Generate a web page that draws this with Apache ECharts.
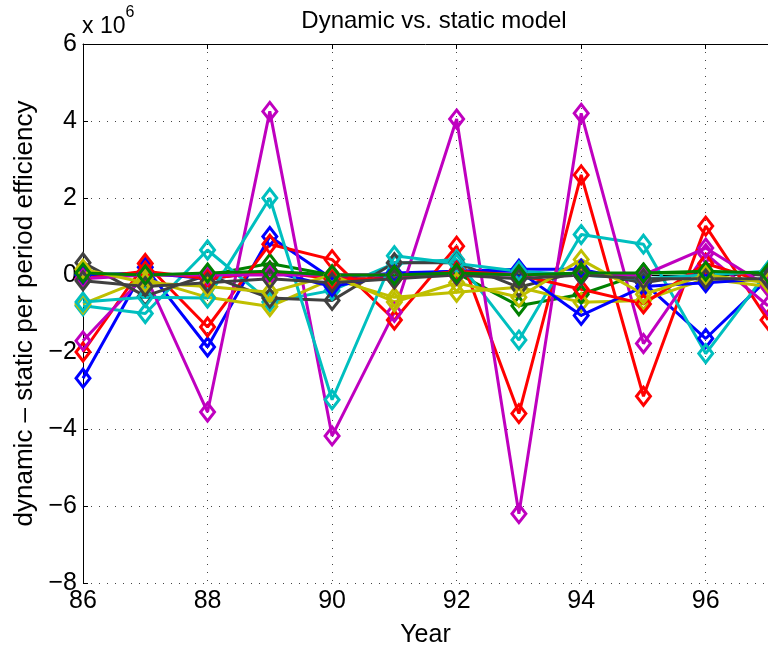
<!DOCTYPE html>
<html>
<head>
<meta charset="utf-8">
<script src="https://cdn.jsdelivr.net/npm/echarts@6/dist/echarts.min.js"></script>
<style>
  html, body { margin: 0; padding: 0; background: #fff; }
  #main { width: 768px; height: 653px; }
</style>
</head>
<body>
<div id="main"></div>
<script>
// years on the x axis
var years = [86, 87, 88, 89, 90, 91, 92, 93, 94, 95, 96, 97];

// dynamic - static per period efficiency, in units of 1e6
var blueA    = [-2.68, 0.2, -1.87, 1.0, -0.1, 0.05, 0.1, 0.15, 0.15, -0.2, -1.65, -0.1];
var greenA   = [0.0, 0.0, 0.0, 0.3, 0.0, 0.0, 0.05, -0.8, -0.5, 0.05, 0.05, 0.0];
var redA     = [-2.0, 0.3, -1.35, 0.8, 0.4, -1.17, 0.75, -3.6, 2.6, -3.15, 1.27, -1.17];
var cyanA    = [-0.8, -1.0, 0.65, -0.7, -0.4, 0.3, 0.4, -1.69, 1.05, 0.8, -2.04, 0.1];
var magentaA = [-1.71, 0.0, -3.56, 4.25, -4.18, -0.97, 4.05, -6.2, 4.2, -1.78, 0.55, -0.8];
var yellowA  = [-0.75, -0.1, -0.58, -0.82, -0.1, -0.58, -0.45, -0.32, -0.71, -0.66, -0.1, -0.3];
var grayA    = [0.32, -0.55, 0.0, -0.6, -0.66, 0.32, 0.32, -0.32, 0.1, -0.2, 0.05, 0.0];
var blueB    = [0.0, 0.05, -0.1, 0.1, -0.3, 0.0, 0.1, 0.1, -1.05, -0.3, -0.2, -0.1];
var redB     = [-0.1, 0.1, -0.1, 0.1, -0.1, -0.1, 0.1, 0.0, -0.37, -0.75, 0.3, -0.2];
var cyanB    = [-0.7, -0.58, -0.6, 2.0, -3.24, 0.5, 0.3, 0.1, 0.0, -0.1, 0.0, 0.1];
var magentaB = [-0.1, 0.0, 0.0, 0.0, 0.0, 0.0, 0.0, 0.0, 0.0, 0.0, 0.7, -0.3];
var yellowB  = [0.15, -0.2, -0.3, -0.45, 0.0, -0.7, -0.2, -0.58, 0.4, -0.5, 0.0, -0.2];
var grayB    = [-0.15, -0.3, -0.2, -0.1, -0.2, -0.1, 0.0, -0.1, 0.0, -0.1, -0.1, -0.1];
var greenB   = [0.05, 0.0, 0.05, 0.1, 0.0, 0.0, 0.05, 0.0, 0.05, 0.05, 0.1, 0.05];

var lines = [
  [blueA, '#0000ff'], [greenA, '#008000'], [redA, '#ff0000'], [cyanA, '#00bfbf'],
  [magentaA, '#bf00bf'], [yellowA, '#bfbf00'], [grayA, '#404040'],
  [blueB, '#0000ff'], [redB, '#ff0000'], [cyanB, '#00bfbf'],
  [magentaB, '#bf00bf'], [yellowB, '#bfbf00'], [grayB, '#404040'], [greenB, '#008000']
];

var font = 'Liberation Sans, Arial, sans-serif';
var chart = echarts.init(document.getElementById('main'));

var series = lines.map(function (l) {
  return {
    type: 'line',
    data: years.map(function (y, i) { return [y, l[0][i]]; }),
    symbol: 'diamond',
    symbolSize: [14, 18],
    showAllSymbol: true,
    clip: false,
    animation: false,
    lineStyle: { color: l[1], width: 3 },
    itemStyle: { color: 'rgba(0,0,0,0)', borderColor: l[1], borderWidth: 3 }
  };
});

var gridDots = { show: true, lineStyle: { color: '#444', width: 1, type: [1, 7] } };

chart.setOption({
  backgroundColor: '#fff',
  animation: false,
  title: {
    text: 'Dynamic vs. static model',
    left: 429, top: 4, textAlign: 'center',
    textStyle: { fontFamily: font, fontSize: 24, fontWeight: 'normal', color: '#000' }
  },
  grid: { left: 83, top: 44, width: 690, height: 545, containLabel: false },
  xAxis: [{
    type: 'value', min: 86, max: 97, interval: 2,
    name: 'Year', nameLocation: 'middle', nameGap: 40,
    nameTextStyle: { fontFamily: font, fontSize: 25, color: '#000' },
    axisLine: { lineStyle: { color: '#000', width: 1 } },
    axisTick: { inside: true, length: 5, lineStyle: { color: '#000' } },
    axisLabel: { showMaxLabel: false, margin: 6, fontFamily: font, fontSize: 25, color: '#000' },
    splitLine: gridDots
  }, {
    type: 'value', min: 86, max: 97, interval: 2, position: 'top',
    axisLine: { lineStyle: { color: '#000', width: 1 } },
    axisTick: { inside: true, length: 5, lineStyle: { color: '#000' } },
    axisLabel: { show: false },
    splitLine: { show: false }
  }],
  yAxis: {
    type: 'value', min: -8, max: 6, interval: 2,
    name: 'dynamic \u2013 static per period efficiency',
    nameLocation: 'middle', nameGap: 44, nameRotate: 90,
    nameTextStyle: { fontFamily: font, fontSize: 26, color: '#000' },
    axisLine: { show: true, lineStyle: { color: '#000', width: 1 } },
    axisTick: { show: true, inside: true, length: 5, lineStyle: { color: '#000' } },
    axisLabel: {
      margin: 6, fontFamily: font, fontSize: 25, color: '#000',
      formatter: function (v) { return String(v).replace('-', '\u2212'); }
    },
    splitLine: gridDots
  },
  graphic: [{
    type: 'text', left: 82, top: 5,
    style: {
      text: '{a|x 10}{b|6}',
      rich: {
        a: { fontFamily: font, fontSize: 23, fill: '#000', padding: [10, 0, 0, 0] },
        b: { fontFamily: font, fontSize: 16, fill: '#000', verticalAlign: 'top' }
      }
    }
  }],
  series: series
});
</script>
</body>
</html>
